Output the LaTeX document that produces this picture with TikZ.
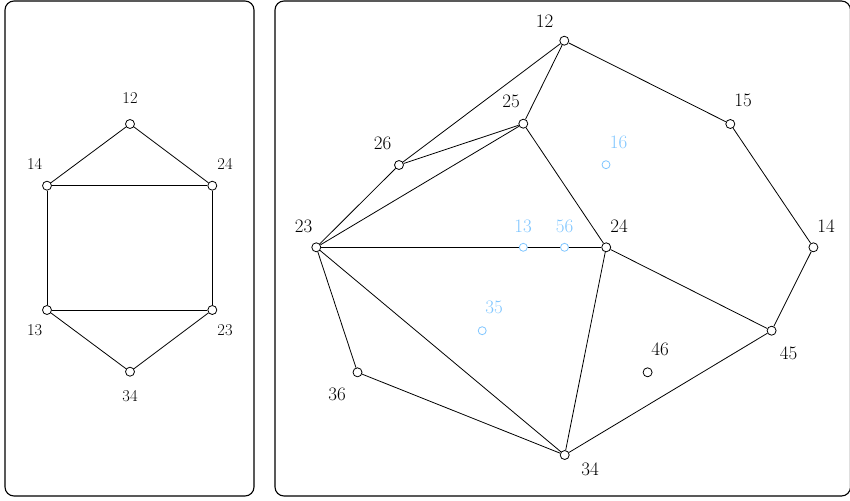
\documentclass[tikz,border=0pt]{standalone}
\definecolor{lblue}{RGB}{128,198,255}
\tikzset{
  vtx/.style={circle,draw=black,fill=white,line width=0.8pt,inner sep=0pt,minimum size=9pt},
  bvtx/.style={circle,draw=lblue,fill=white,line width=0.8pt,inner sep=0pt,minimum size=8pt},
  edge/.style={line width=0.8pt,black},
  frame/.style={line width=1.1pt,rounded corners=9pt},
  llbl/.style={inner sep=0pt,font=\fontsize{16.5}{19}\selectfont},
  rlbl/.style={inner sep=0pt,font=\fontsize{19}{22}\selectfont},
  blbl/.style={rlbl,text=lblue}
}
\begin{document}
\begin{tikzpicture}[x=1pt,y=-1pt]
\useasboundingbox (0,0) rectangle (850,500);
% frames
\draw[frame] (5,1) rectangle (254,496);
\draw[frame] (275,1) rectangle (850.5,496);

% left graph
\node[vtx] (a12) at (130,124) {};
\node[vtx] (a14) at (47,185.7) {};
\node[vtx] (a24) at (212.3,185.7) {};
\node[vtx] (a13) at (47,310) {};
\node[vtx] (a23) at (212.3,310) {};
\node[vtx] (a34) at (130,371.7) {};
\draw[edge] (a12) -- (a14);
\draw[edge] (a12) -- (a24);
\draw[edge] (a14) -- (a24);
\draw[edge] (a14) -- (a13);
\draw[edge] (a24) -- (a23);
\draw[edge] (a13) -- (a23);
\draw[edge] (a13) -- (a34);
\draw[edge] (a23) -- (a34);
\node[llbl] (la12) at (130,97.8) {12};
\node[llbl] (la14) at (34.7,164) {14};
\node[llbl] (la24) at (225,164) {24};
\node[llbl] (la13) at (34.7,329.7) {13};
\node[llbl] (la23) at (225,329.7) {23};
\node[llbl] (la34) at (130,396) {34};

% right graph
\node[vtx] (b12) at (564.3,40.7) {};
\node[vtx] (b25) at (523.3,123.7) {};
\node[vtx] (b26) at (399,165) {};
\node[vtx] (b23) at (316.3,247.3) {};
\node[vtx] (b24) at (606.2,247.3) {};
\node[vtx] (b15) at (730.3,124) {};
\node[vtx] (b14) at (813.4,247.3) {};
\node[vtx] (b45) at (771.6,330.7) {};
\node[vtx] (b46) at (647.6,372.3) {};
\node[vtx] (b36) at (357.5,372.3) {};
\node[vtx] (b34) at (564.7,455) {};

\draw[edge] (b12) -- (b15);
\draw[edge] (b15) -- (b14);
\draw[edge] (b14) -- (b45);
\draw[edge] (b45) -- (b34);
\draw[edge] (b45) -- (b24);
\draw[edge] (b24) -- (b34);
\draw[edge] (b24) -- (b25);
\draw[edge] (b23) -- (b24);
\draw[edge] (b25) -- (b12);
\draw[edge] (b25) -- (b26);
\draw[edge] (b25) -- (b23);
\draw[edge] (b26) -- (b12);
\draw[edge] (b26) -- (b23);
\draw[edge] (b23) -- (b36);
\draw[edge] (b23) -- (b34);
\draw[edge] (b36) -- (b34);

\node[bvtx] (b13) at (523.3,247.3) {};
\node[bvtx] (b56) at (564.5,247.3) {};
\node[bvtx] (b16) at (606,164.7) {};
\node[bvtx] (b35) at (482.2,330.7) {};

\node[rlbl] (lb12) at (544.5,21.5) {12};
\node[rlbl] (lb25) at (511,101) {25};
\node[rlbl] (lb26) at (382.5,143) {26};
\node[rlbl] (lb23) at (303.5,226) {23};
\node[rlbl] (lb24) at (619,226) {24};
\node[rlbl] (lb15) at (743,100.7) {15};
\node[rlbl] (lb14) at (826,226) {14};
\node[rlbl] (lb45) at (788.5,353.7) {45};
\node[rlbl] (lb46) at (660,349.7) {46};
\node[rlbl] (lb36) at (337,394.7) {36};
\node[rlbl] (lb34) at (590,469) {34};
\node[blbl] (lb13) at (523,226) {13};
\node[blbl] (lb56) at (564.5,226) {56};
\node[blbl] (lb16) at (618.7,142.5) {16};
\node[blbl] (lb35) at (494,307.5) {35};
\end{tikzpicture}
\end{document}
